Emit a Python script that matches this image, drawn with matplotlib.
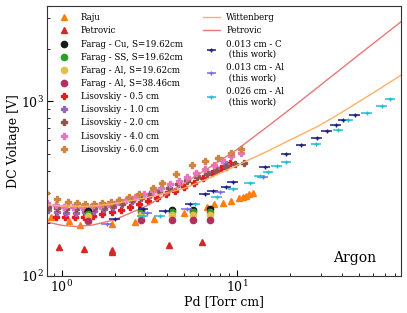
import matplotlib
matplotlib.use("Agg")
import matplotlib.pyplot as plt
from matplotlib.lines import Line2D

plt.rcParams['font.family'] = ['DejaVu Serif']
plt.rcParams['mathtext.fontset'] = 'dejavuserif'

# ---------------- data ----------------
raju_pd = [0.87, 1.09, 1.27, 1.92, 2.61, 3.37, 5.0, 6.7, 7.4, 8.3, 9.2, 10.3, 10.8, 11.2, 11.7, 12.3]
raju_v = [219, 207, 196, 198, 205, 211, 231, 248, 258, 263, 270, 279, 285, 289, 294, 300]

petro_pd = [0.965, 1.34, 1.92, 1.92, 4.1, 6.3]
petro_v = [147, 143, 141, 138, 151, 157]

farag_pd = [1.41, 2.83, 4.25, 5.6, 7.0]
farag_cu_v = [236, 240, 240, 240, 242]
farag_ss_v = [228, 232, 232, 232, 232]
farag_al1_v = [220, 224, 224, 224, 224]
farag_al2_v = [206, 210, 210, 210, 210]

lis05_pd = [0.92, 1.04, 1.18, 1.33, 1.5, 1.7, 1.92, 2.17, 2.45, 2.77, 3.1, 3.5, 3.95, 4.45, 5.0, 5.65, 6.4, 7.2, 8.1, 9.1]
lis05_v = [218, 218, 217, 217, 220, 226, 233, 240, 249, 258, 268, 280, 293, 307, 322, 340, 362, 388, 415, 445]

lis10_pd = [0.83, 0.94, 1.06, 1.2, 1.35, 1.53, 1.73, 1.95, 2.2, 2.5, 2.82, 3.2, 3.6, 4.1, 4.6, 5.2, 5.9, 6.7, 7.6, 8.6]
lis10_v = [240, 232, 230, 230, 232, 236, 243, 250, 258, 268, 279, 292, 305, 320, 336, 353, 372, 393, 415, 440]

lis20_pd = [0.83, 0.94, 1.06, 1.2, 1.35, 1.53, 1.73, 1.95, 2.2, 2.5, 2.82, 3.2, 3.6, 4.1, 4.6, 5.2, 5.9, 6.7, 7.6, 8.6, 9.7, 11.0]
lis20_v = [250, 244, 242, 242, 243, 246, 250, 256, 263, 272, 282, 294, 306, 320, 335, 351, 368, 385, 402, 420, 436, 445]

lis40_pd = [0.82, 0.92, 1.03, 1.16, 1.3, 1.46, 1.64, 1.84, 2.07, 2.33, 2.62, 2.95, 3.3, 3.7, 4.15, 4.65, 5.2, 5.85, 6.55, 7.35, 8.25, 9.3, 10.5]
lis40_v = [262, 255, 250, 248, 248, 250, 253, 258, 264, 272, 282, 293, 306, 320, 335, 352, 370, 390, 410, 432, 460, 485, 505]

lis60_pd = [0.81, 0.94, 1.08, 1.22, 1.36, 1.52, 1.7, 1.9, 2.12, 2.4, 2.75, 3.3, 3.75, 4.5, 5.5, 6.6, 7.8, 9.2, 10.6]
lis60_v = [298, 276, 264, 261, 258, 258, 262, 267, 273, 285, 295, 318, 343, 383, 430, 455, 474, 508, 532]

witt_pd = [0.8, 1.0, 1.3, 1.6, 2.0, 3.0, 4.0, 5.0, 7.0, 10.0, 15.0, 20.0, 29.0, 40.0, 60.0, 90.0]
witt_v = [256, 252, 250, 253, 260, 280, 300, 318, 365, 430, 520, 600, 720, 870, 1120, 1450]

petl_pd = [0.8, 1.0, 1.2, 1.5, 2.0, 3.0, 4.0, 5.0, 7.0, 10.0, 15.0, 20.0, 30.0, 50.0, 90.0]
petl_v = [205, 195, 192, 196, 210, 250, 295, 340, 420, 530, 720, 900, 1240, 1860, 2950]

c013_pd = [2.0, 2.91, 3.87, 5.4, 6.56, 7.27, 8.66, 9.44, 14.4, 19.1, 23.3, 28.6, 32.6, 36.7, 40.4, 47.0]
c013_v = [211, 241, 237, 259, 294, 308, 325, 344, 423, 497, 563, 621, 677, 731, 783, 838]

al013_pd = [1.8, 3.05, 5.16, 8.0, 14.0]
al013_v = [199, 231, 241, 301, 371]

al026_pd = [2.9, 3.63, 5.75, 7.66, 9.5, 11.8, 13.5, 15.1, 16.9, 19.1, 28.3, 37.9, 43.2, 55.0, 67.0, 75.0]
al026_v = [221, 222, 260, 285, 314, 343, 374, 396, 426, 447, 570, 687, 779, 855, 946, 1031]

xerr_frac = 0.07

# ---------------- plot ----------------
fig = plt.figure(figsize=(4.07, 3.13), dpi=100)
ax = fig.add_axes([0.1147, 0.1182, 0.8706, 0.8626])
ax.set_xscale('log')
ax.set_yscale('log')

ms_tri = 4.5
ms_dot = 4.5
ms_dia = 4.8

h_raju, = ax.plot(raju_pd, raju_v, '^', color='#ff7f0e', ms=ms_tri, ls='none', label='Raju')
h_petro, = ax.plot(petro_pd, petro_v, '^', color='#d62728', ms=ms_tri, ls='none', label='Petrovic')

h_lis05, = ax.plot(lis05_pd, lis05_v, 'P', color='#e41a1c', ms=ms_dia, ls='none', label='Lisovskiy - 0.5 cm')
h_lis10, = ax.plot(lis10_pd, lis10_v, 'P', color='#9467bd', ms=ms_dia, ls='none', label='Lisovskiy - 1.0 cm')
h_lis20, = ax.plot(lis20_pd, lis20_v, 'P', color='#8c564b', ms=ms_dia, ls='none', label='Lisovskiy - 2.0 cm')
h_lis40, = ax.plot(lis40_pd, lis40_v, 'P', color='#e377c2', ms=ms_dia, ls='none', label='Lisovskiy - 4.0 cm')
h_lis60, = ax.plot(lis60_pd, lis60_v, 'P', color='#cd853f', ms=ms_dia, ls='none', label='Lisovskiy - 6.0 cm')

h_cu, = ax.plot(farag_pd, farag_cu_v, 'o', color='#1a1a1a', ms=ms_dot, ls='none', label='Farag - Cu, S=19.62cm')
h_ss, = ax.plot(farag_pd, farag_ss_v, 'o', color='#2ca02c', ms=ms_dot, ls='none', label='Farag - SS, S=19.62cm')
h_al1, = ax.plot(farag_pd, farag_al1_v, 'o', color='#e0c050', ms=ms_dot, ls='none', label='Farag - Al, S=19.62cm')
h_al2, = ax.plot(farag_pd, farag_al2_v, 'o', color='#b03060', ms=ms_dot, ls='none', label='Farag - Al, S=38.46cm')

h_witt, = ax.plot(witt_pd, witt_v, '-', color='#ffb066', lw=1.0, label='Wittenberg')
h_petl, = ax.plot(petl_pd, petl_v, '-', color='#e87878', lw=1.0, label='Petrovic')

def ebar(pd, v, color, label):
    xe = [p * xerr_frac for p in pd]
    return ax.errorbar(pd, v, xerr=xe, fmt='+', color=color, ms=3, lw=1.0,
                       elinewidth=1.1, capsize=0, label=label)

h_c013 = ebar(c013_pd, c013_v, '#1c1c78', '0.013 cm - C\n (this work)')
h_al013 = ebar(al013_pd, al013_v, '#7b68ee', '0.013 cm - Al\n (this work)')
h_al026 = ebar(al026_pd, al026_v, '#20c0d0', '0.026 cm - Al\n (this work)')

ax.set_xlim(0.818, 86.5)
ax.set_ylim(100, 3520)
ax.tick_params(which='both', direction='in', labelsize=9, pad=2)
ax.tick_params(which='major', length=4)
ax.tick_params(which='minor', length=2)
ax.set_xlabel('Pd [Torr cm]', fontsize=9, labelpad=0)
ax.set_ylabel('DC Voltage [V]', fontsize=9, labelpad=1)
for s in ax.spines.values():
    s.set_color('#333333')

ax.text(0.87, 0.065, 'Argon', transform=ax.transAxes, ha='center', va='center', fontsize=10)

leg1 = ax.legend(handles=[h_raju, h_petro, h_cu, h_ss, h_al1, h_al2,
                          h_lis05, h_lis10, h_lis20, h_lis40, h_lis60],
                 loc='upper left', bbox_to_anchor=(0.005, 1.0), frameon=False,
                 fontsize=6.2, handlelength=2.0, handletextpad=0.9,
                 labelspacing=0.48, borderaxespad=0.45)
ax.add_artist(leg1)
leg2 = ax.legend(handles=[h_witt, h_petl, h_c013, h_al013, h_al026],
                 loc='upper left', bbox_to_anchor=(0.42, 1.0), frameon=False,
                 fontsize=6.2, handlelength=2.0, handletextpad=0.7,
                 labelspacing=0.48, borderaxespad=0.45)

fig.savefig('out.png', dpi=100)
